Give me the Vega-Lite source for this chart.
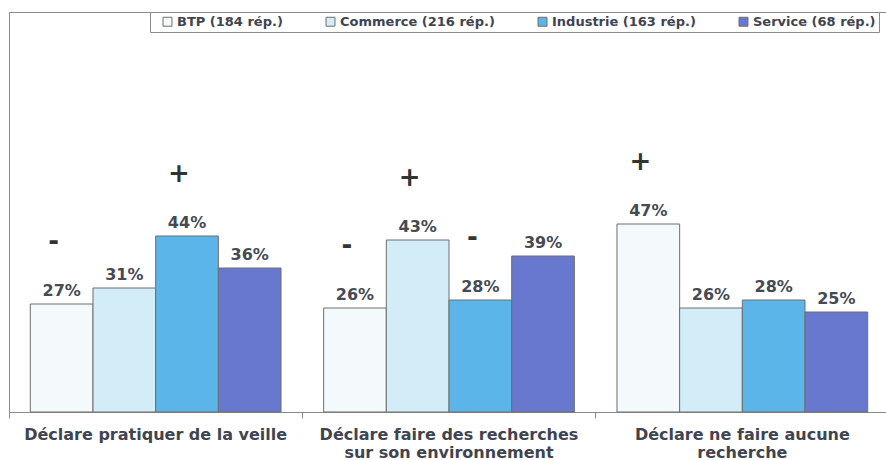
{
  "$schema": "https://vega.github.io/schema/vega-lite/v6.json",
  "width": 880,
  "height": 400,
  "autosize": {"type": "none"},
  "padding": {"left": 9, "top": 12, "right": 0, "bottom": 48},
  "background": "white",
  "config": {
    "view": {"stroke": "#8a8a8a", "strokeWidth": 1},
    "font": "DejaVu Sans"
  },
  "data": {
    "values": [
      {"cat": "Déclare pratiquer de la veille", "series": "BTP (184 rép.)", "value": 0.27, "sig": "-"},
      {"cat": "Déclare pratiquer de la veille", "series": "Commerce (216 rép.)", "value": 0.31, "sig": ""},
      {"cat": "Déclare pratiquer de la veille", "series": "Industrie (163 rép.)", "value": 0.44, "sig": "+"},
      {"cat": "Déclare pratiquer de la veille", "series": "Service (68 rép.)", "value": 0.36, "sig": ""},
      {"cat": "Déclare faire des recherches sur son environnement", "series": "BTP (184 rép.)", "value": 0.26, "sig": "-"},
      {"cat": "Déclare faire des recherches sur son environnement", "series": "Commerce (216 rép.)", "value": 0.43, "sig": "+"},
      {"cat": "Déclare faire des recherches sur son environnement", "series": "Industrie (163 rép.)", "value": 0.28, "sig": "-"},
      {"cat": "Déclare faire des recherches sur son environnement", "series": "Service (68 rép.)", "value": 0.39, "sig": ""},
      {"cat": "Déclare ne faire aucune recherche", "series": "BTP (184 rép.)", "value": 0.47, "sig": "+"},
      {"cat": "Déclare ne faire aucune recherche", "series": "Commerce (216 rép.)", "value": 0.26, "sig": ""},
      {"cat": "Déclare ne faire aucune recherche", "series": "Industrie (163 rép.)", "value": 0.28, "sig": ""},
      {"cat": "Déclare ne faire aucune recherche", "series": "Service (68 rép.)", "value": 0.25, "sig": ""}
    ]
  },
  "encoding": {
    "x": {
      "field": "cat", "type": "nominal", "sort": null,
      "scale": {"paddingInner": 0, "paddingOuter": 0}
    },
    "xOffset": {
      "field": "series", "type": "nominal", "sort": null,
      "scale": {"paddingInner": 0, "paddingOuter": 0.34}
    },
    "y": {
      "field": "value", "type": "quantitative",
      "scale": {"domain": [0, 1], "nice": false},
      "axis": null
    }
  },
  "resolve": {"axis": {"x": "independent"}},
  "layer": [
    {
      "mark": {"type": "bar", "stroke": "#6e6e6e", "strokeWidth": 1},
      "encoding": {
        "x": {
          "field": "cat", "type": "nominal", "sort": null,
          "axis": {
            "title": null,
            "orient": "bottom",
            "labelAngle": 0,
            "ticks": false,
            "domainColor": "#8a8a8a",
            "labelFont": "DejaVu Sans",
            "labelFontWeight": "bold",
            "labelFontSize": 16,
            "labelColor": "#3f4450",
            "labelPadding": 14,
            "labelLineHeight": 18,
            "labelLimit": 400,
            "labelExpr": "datum.label == 'Déclare faire des recherches sur son environnement' ? ['Déclare faire des recherches', 'sur son environnement'] : datum.label == 'Déclare ne faire aucune recherche' ? ['Déclare ne faire aucune', 'recherche'] : datum.label"
          }
        },
        "color": {
          "field": "series", "type": "nominal",
          "scale": {
            "domain": ["BTP (184 rép.)", "Commerce (216 rép.)", "Industrie (163 rép.)", "Service (68 rép.)"],
            "range": ["#f4fafb", "#d3edf8", "#5cb5e9", "#6878cf"]
          },
          "legend": {
            "title": " ",
            "titleOrient": "left",
            "titlePadding": 8,
            "titleFontSize": 12,
            "orient": "none",
            "legendX": 141,
            "legendY": 0,
            "direction": "horizontal",
            "fillColor": "white",
            "strokeColor": "#8a8a8a",
            "padding": 3,
            "symbolType": "square",
            "symbolSize": 80,
            "symbolStrokeColor": "#6e6e6e",
            "symbolStrokeWidth": 1,
            "symbolOpacity": 1,
            "labelFont": "DejaVu Sans",
            "labelFontWeight": "bold",
            "labelFontSize": 13,
            "labelColor": "#3f4450",
            "labelOffset": 3,
            "columnPadding": 41,
            "labelLimit": 300
          }
        }
      }
    },
    {
      "mark": {"type": "text", "baseline": "alphabetic", "dy": -8, "font": "DejaVu Sans", "fontWeight": "bold", "fontSize": 16, "color": "#454a55"},
      "encoding": {
        "x": {
          "field": "cat", "type": "nominal", "sort": null,
          "axis": {
            "title": null,
            "orient": "bottom",
            "labels": false,
            "ticks": true,
            "tickSize": 6,
            "tickColor": "#8a8a8a",
            "bandPosition": 0,
            "domain": false
          }
        },
        "text": {"field": "value", "type": "quantitative", "format": ".0%"}
      }
    },
    {
      "transform": [{"filter": "datum.sig != ''"}],
      "mark": {"type": "text", "baseline": "middle", "dy": -62, "dx": -8, "font": "DejaVu Sans", "fontWeight": "bold", "fontSize": 26, "color": "#333333"},
      "encoding": {
        "x": {"field": "cat", "type": "nominal", "sort": null, "axis": null},
        "text": {"field": "sig", "type": "nominal"}
      }
    }
  ]
}
